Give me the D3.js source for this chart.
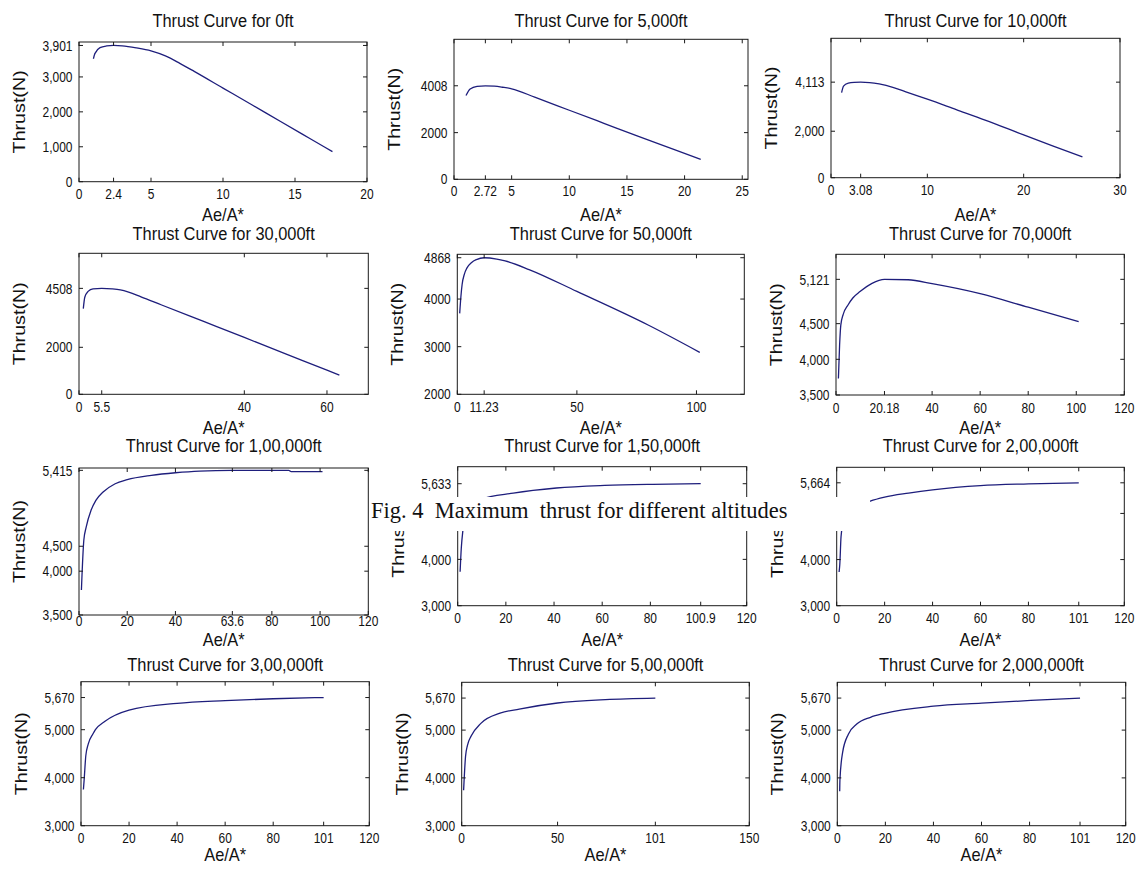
<!DOCTYPE html>
<html>
<head>
<meta charset="utf-8">
<script src="https://cdn.jsdelivr.net/npm/d3@7"></script>
<style>
  html, body { margin: 0; padding: 0; background: #fff; }
  svg text { font-family: 'Liberation Sans', Arial, sans-serif; fill: #111; }
</style>
</head>
<body>
<svg id="chart" width="1138" height="871"></svg>
<script>
// ---------------- DATA ----------------
const titles = [
  "Thrust Curve for 0ft", "Thrust Curve for 5,000ft", "Thrust Curve for 10,000ft",
  "Thrust Curve for 30,000ft", "Thrust Curve for 50,000ft", "Thrust Curve for 70,000ft",
  "Thrust Curve for 1,00,000ft", "Thrust Curve for 1,50,000ft", "Thrust Curve for 2,00,000ft",
  "Thrust Curve for 3,00,000ft", "Thrust Curve for 5,00,000ft", "Thrust Curve for 2,000,000ft"
];
const xLabel = "Ae/A*";
const yLabel = "Thrust(N)";
const caption = "Fig. 4  Maximum  thrust for different altitudes";

// Area ratio (Ae/A*) and thrust (N) for each altitude
const area0ft      = [1, 1.1, 1.46, 1.92, 2.4, 3, 4, 5, 6, 7, 8, 10, 12, 14, 16, 17.6];
const thrust0ft    = [3520, 3667, 3838, 3886, 3901, 3890, 3830, 3745, 3600, 3390, 3160, 2681, 2202, 1722, 1243, 860];
const area5k       = [1.04, 1.4, 2, 2.72, 3.5, 4.2, 5, 7, 10, 13, 16, 19, 21.4];
const thrust5k     = [3590, 3870, 3985, 4008, 3990, 3945, 3880, 3520, 2960, 2400, 1840, 1290, 851];
const area10k      = [1.1, 1.3, 1.8, 2.4, 3.08, 4, 5, 6.5, 8, 10, 13, 16, 20, 23, 26.1];
const thrust10k    = [3660, 3940, 4070, 4105, 4113, 4095, 4035, 3880, 3660, 3380, 2930, 2480, 1840, 1370, 894];
const area30k      = [1.04, 1.4, 2.2, 3.4, 5.5, 8, 10, 12, 15, 20, 30, 40, 50, 60, 63];
const thrust30k    = [3644, 4130, 4380, 4490, 4508, 4488, 4445, 4350, 4150, 3800, 3110, 2420, 1720, 1030, 819];
const area50k      = [1, 1.5, 2, 3, 4, 6, 8, 11.23, 16.5, 20, 30, 50, 80, 101.4];
const thrust50k    = [3700, 4050, 4300, 4530, 4650, 4770, 4830, 4868, 4840, 4800, 4620, 4160, 3450, 2880];
const area70k      = [1, 1.5, 2, 3, 5, 7, 10, 15, 20.18, 30, 40, 60, 80, 101];
const thrust70k    = [3730, 4200, 4480, 4630, 4762, 4860, 4949, 5065, 5121, 5115, 5060, 4920, 4730, 4528];
const area100k     = [1, 2, 3, 5, 7, 10, 15, 20, 30, 40, 50, 63.6, 87, 88, 101];
const thrust100k   = [3830, 4490, 4666, 4886, 5018, 5128, 5238, 5291, 5348, 5383, 5405, 5414, 5414, 5398, 5398];
const area150k     = [1, 1.5, 2.1, 3, 5, 7, 9.3, 23.1, 41, 61, 81, 100.9];
const thrust150k   = [3734, 4250, 4600, 4850, 5060, 5190, 5290, 5430, 5540, 5595, 5620, 5633];
const area200k     = [1, 1.3, 1.8, 2.5, 4, 7, 10, 14, 20, 30, 40, 60, 80, 101];
const thrust200k   = [3730, 3900, 4490, 4750, 4950, 5100, 5180, 5266, 5353, 5440, 5511, 5604, 5640, 5664];
const area300k     = [1, 1.3, 2, 3, 5, 6, 10, 20, 40, 60, 80, 101];
const thrust300k   = [3753, 3950, 4458, 4700, 4915, 5000, 5176, 5408, 5549, 5606, 5645, 5670];
const area500k     = [1, 2, 3, 5, 10, 20, 30, 50, 75, 101];
const thrust500k   = [3740, 4450, 4680, 4880, 5141, 5354, 5440, 5567, 5638, 5670];
const area2000k    = [1, 1.1, 2.2, 4.6, 8.1, 13.8, 19.7, 40, 60, 80.5, 101];
const thrust2000k  = [3720, 3965, 4528, 4915, 5127, 5268, 5352, 5500, 5563, 5620, 5670];

const areaSeries   = [area0ft, area5k, area10k, area30k, area50k, area70k, area100k, area150k, area200k, area300k, area500k, area2000k];
const thrustSeries = [thrust0ft, thrust5k, thrust10k, thrust30k, thrust50k, thrust70k, thrust100k, thrust150k, thrust200k, thrust300k, thrust500k, thrust2000k];

// Axis limits
const xLimits = [[0,20],[0,25.5],[0,30],[0,70],[0,120],[0,120],[0,120],[0,120],[0,120],[0,120],[0,150],[0,120]];
const yLimits = [[0,4000],[0,6000],[0,6000],[0,6000],[2000,4940],[3500,5472],[3500,5446],[3000,6000],[3000,6000],[3000,6000],[3000,6000],[3000,6000]];

// Tick values & labels
const xTicks = [
  [0,2.4,5,10,15,20], [0,2.72,5,10,15,20,25], [0,3.08,10,20,30],
  [0,5.5,40,60], [0,11.23,50,100], [0,20.18,40,60,80,100,120],
  [0,20,40,63.6,80,100,120], [0,20,40,60,80,100.9,120], [0,20,40,60,80,101,120],
  [0,20,40,60,80,101,120], [0,50,101,150], [0,20,40,60,80,101,120]
];
const yTicks = [
  [0,1000,2000,3000,3901], [0,2000,4008], [0,2000,4113],
  [0,2000,4508], [2000,3000,4000,4868], [3500,4000,4500,5121],
  [3500,4080,4410,5415], [3000,4000,5000,5633], [3000,4000,5000,5664],
  [3000,4000,5000,5670], [3000,4000,5000,5670], [3000,4000,5000,5670]
];
const yTickLabels = [
  ["0","1,000","2,000","3,000","3,901"], ["0","2000","4008"], ["0","2,000","4,113"],
  ["0","2000","4508"], ["2000","3000","4000","4868"], ["3,500","4,000","4,500","5,121"],
  ["3,500","4,000","4,500","5,415"], ["3,000","4,000","5,000","5,633"], ["3,000","4,000","5,000","5,664"],
  ["3,000","4,000","5,000","5,670"], ["3,000","4,000","5,000","5,670"], ["3,000","4,000","5,000","5,670"]
];

// ---------------- LAYOUT ----------------
// plot boxes: [left, top, right, bottom]
const boxes = [
  [79, 42, 367, 181.7],   [454, 39.3, 748, 179.3],   [831, 38.3, 1120, 177.7],
  [79, 253.3, 368.3, 394.3], [457.3, 254.3, 744.3, 394.3], [836, 254.3, 1124.3, 395],
  [79, 468, 368.3, 615],  [457.7, 466.7, 746.7, 605.7], [836.7, 467.3, 1124.3, 605.7],
  [81, 681.7, 369.3, 825.7], [461.7, 682.3, 749.3, 825.7], [837.3, 682.3, 1125.7, 825.7]
];
const xTickOffsets = [17, 17, 17, 18, 18, 18, 10.5, 17, 17, 17, 17, 17];
const titleBaselines = [27, 240, 452, 670.5];
const xLabelBaselines = [221, 434, 645.5, 861];
const band = { x: 370, y: 497, w: 500, h: 34 };

const svg = d3.select("#chart");
svg.append("rect").attr("width", 1138).attr("height", 871).attr("fill", "#fff");

// clip for y-labels that sit under the caption band (only lower part visible)
svg.append("defs").append("clipPath").attr("id", "belowBand")
  .append("rect").attr("x", 0).attr("y", band.y + band.h).attr("width", 1138).attr("height", 871);

function txt(g, x, y, s, size, anchor, sy, rotate, extra) {
  const t = g.append("text")
    .attr("transform", `translate(${x},${y}) scale(1,${sy})` + (rotate ? " rotate(-90)" : ""))
    .attr("font-size", size)
    .attr("text-anchor", anchor)
    .text(s);
  if (extra) t.attr("dy", extra);
  return t;
}

const TICK_FS = 12, LABEL_FS = 16.4, TICK_LEN = 4;
const lineColor = "#1e1e7c";

boxes.forEach((b, i) => {
  const [L, T, R, B] = b;
  const row = Math.floor(i / 3);
  const g = svg.append("g");
  const x = d3.scaleLinear().domain(xLimits[i]).range([L, R]);
  const y = d3.scaleLinear().domain(yLimits[i]).range([B, T]);

  // curve
  const pts = areaSeries[i].map((a, k) => [a, thrustSeries[i][k]]);
  const line = d3.line().x(d => x(d[0])).y(d => y(d[1])).curve(d3.curveMonotoneX);
  g.append("path").datum(pts).attr("d", line)
    .attr("fill", "none").attr("stroke", lineColor).attr("stroke-width", 1.3);

  // box
  g.append("rect").attr("x", L).attr("y", T).attr("width", R - L).attr("height", B - T)
    .attr("fill", "none").attr("stroke", "#1a1a1a").attr("stroke-width", 1);

  // x ticks
  xTicks[i].forEach(v => {
    const px = x(v);
    g.append("line").attr("x1", px).attr("x2", px).attr("y1", B).attr("y2", B - TICK_LEN).attr("stroke", "#1a1a1a");
    g.append("line").attr("x1", px).attr("x2", px).attr("y1", T).attr("y2", T + TICK_LEN).attr("stroke", "#1a1a1a");
    txt(g, px, B + xTickOffsets[i], String(v), TICK_FS, "middle", 1.2);
  });
  // y ticks
  yTicks[i].forEach((v, k) => {
    const py = y(v);
    g.append("line").attr("x1", L).attr("x2", L + TICK_LEN).attr("y1", py).attr("y2", py).attr("stroke", "#1a1a1a");
    g.append("line").attr("x1", R).attr("x2", R - TICK_LEN).attr("y1", py).attr("y2", py).attr("stroke", "#1a1a1a");
    txt(g, L - 6.5, py, yTickLabels[i][k], TICK_FS, "end", 1.2, false, "0.36em");
  });

  // title
  txt(g, (L + R) / 2, titleBaselines[row], titles[i], LABEL_FS, "middle", 1.08);
  // x label
  txt(g, (L + R) / 2, xLabelBaselines[row], xLabel, LABEL_FS, "middle", 1.12);
  // y label (panels under the caption band only show their lower part)
  const yl = txt(g, L - 54, (T + B) / 2, yLabel, LABEL_FS, "middle", 1.2, true);
  if (L > band.x && L < band.x + band.w && T < band.y + band.h && B > band.y) {
    const lg = g.append("g").attr("clip-path", "url(#belowBand)");
    lg.node().appendChild(yl.node());
  }
});

// caption band overlaying the middle row
const cap = svg.append("g");
cap.append("rect").attr("x", band.x).attr("y", band.y).attr("width", band.w).attr("height", band.h).attr("fill", "#fff");
cap.append("text")
  .attr("x", 371).attr("y", 518)
  .attr("font-size", 22.5)
  .style("font-family", "'Liberation Serif', 'Times New Roman', serif")
  .style("white-space", "pre")
  .attr("xml:space", "preserve")
  .text(caption);
</script>
</body>
</html>
